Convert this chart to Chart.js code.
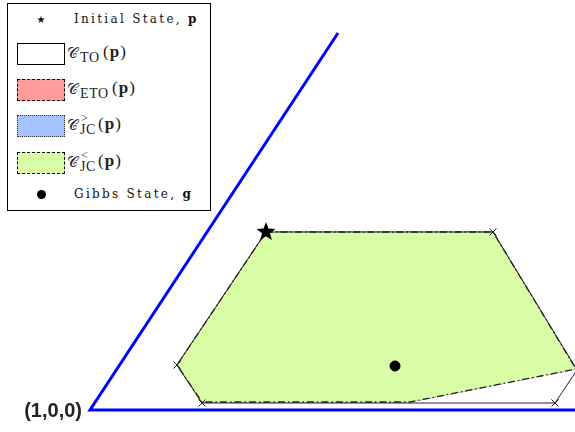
<!DOCTYPE html>
<html>
<head>
<meta charset="utf-8">
<script src="https://cdn.jsdelivr.net/npm/chart.js@4.4.0/dist/chart.umd.min.js"></script>
<style>
body{margin:0;background:#fff;}
#wrap{position:relative;width:575px;height:432px;}
#legend{position:absolute;left:7px;top:3px;width:202px;height:206px;border:1.5px solid #000;background:#fff;
  font-family:"DejaVu Serif","Liberation Serif",serif;color:#111;}
.row{position:absolute;left:0;width:200px;height:26px;display:flex;align-items:center;}
.sym{width:66px;display:flex;justify-content:center;align-items:center;}
.txt{font-size:12px;letter-spacing:2.3px;white-space:nowrap;}
.sw{display:block;width:48px;height:22px;margin-left:9px;margin-right:1px;box-sizing:border-box;}
.mtx{position:relative;width:130px;height:26px;font-family:"Liberation Serif","DejaVu Serif",serif;white-space:nowrap;color:#222;}
.cal{position:absolute;left:1px;top:3px;font-size:15px;font-family:"DejaVu Serif",serif;font-weight:normal;}
.sb{position:absolute;top:9px;font-size:14px;letter-spacing:0.6px;}
.sp{position:absolute;top:-2px;font-size:12px;}
.pp{position:absolute;top:1px;font-size:17px;letter-spacing:1px;}
</style>
</head>
<body>
<div id="wrap">
<canvas id="c" width="575" height="432"></canvas>
<div id="legend">
  <div class="row" style="top:2px"><span class="sym" style="font-size:10px;font-family:'DejaVu Sans'">★</span><span class="txt">Initial State, <b>p</b></span></div>
  <div class="row" style="top:37px"><span class="sw" style="border:1.3px solid #000;background:#fff"></span>
    <span class="mtx"><span class="cal">𝒞</span><span class="sb" style="left:14px">TO</span><span class="pp" style="left:37px">(<b>p</b>)</span></span></div>
  <div class="row" style="top:73px"><span class="sw" style="border:1.5px dashed #000;background:#ff9b9b"></span>
    <span class="mtx"><span class="cal">𝒞</span><span class="sb" style="left:14px">ETO</span><span class="pp" style="left:46px">(<b>p</b>)</span></span></div>
  <div class="row" style="top:109px"><span class="sw" style="border:1.3px dotted #333;background:#a5c3ff"></span>
    <span class="mtx"><span class="cal">𝒞</span><span class="sp" style="left:15px">&gt;</span><span class="sb" style="left:14px">JC</span><span class="pp" style="left:32px">(<b>p</b>)</span></span></div>
  <div class="row" style="top:146px"><span class="sw" style="border:1.5px dashed #000;background:#d9fca6"></span>
    <span class="mtx"><span class="cal">𝒞</span><span class="sp" style="left:15px">&lt;</span><span class="sb" style="left:14px">JC</span><span class="pp" style="left:32px">(<b>p</b>)</span></span></div>
  <div class="row" style="top:177px"><span class="sym"><span style="display:block;width:9px;height:9px;border-radius:50%;background:#000"></span></span><span class="txt">Gibbs State, <b>g</b></span></div>
</div>
</div>
<script>
// simplex edges, corner (1,0,0) at origin
const cornerLabel = '(1,0,0)';
const simplexX = [248, 0, 495];
const simplexY = [377, 0, 0];

// thermal operations region (closed polygon)
const toX = [176, 403, 487, 465, 112, 87, 176];
const toY = [178, 178, 40, 7, 7, 45, 178];
const toMarks = [0, 5, 0, 5, 5, 5, 0];

// ETO / JC regions (same outline in this picture)
const etoX = [176, 403, 486, 320, 112, 87, 176];
const etoY = [178, 178, 41, 8, 8, 45, 178];
const jcX = [176, 403, 486, 320, 112, 87, 176];
const jcY = [178, 178, 41, 8, 8, 45, 178];

const initialState = {x: 176, y: 178};
const gibbsState = {x: 305, y: 44};

function pts(xs, ys){ return xs.map((x,i)=>({x:x, y:ys[i]})); }

// filled star marker
function starImage(r){
  const cv = document.createElement('canvas');
  cv.width = cv.height = r*2+2;
  const g = cv.getContext('2d');
  g.beginPath();
  for(let i=0;i<10;i++){
    const rad = i%2===0 ? r : r*0.42;
    const a = -Math.PI/2 + i*Math.PI/5;
    g.lineTo(r+1+rad*Math.cos(a), r+1+rad*Math.sin(a));
  }
  g.closePath();
  g.fillStyle = '#000';
  g.fill();
  return cv;
}

const cornerPlugin = {
  id: 'corner',
  afterDraw(chart){
    const ctx = chart.ctx;
    const px = chart.scales.x.getPixelForValue(0);
    const py = chart.scales.y.getPixelForValue(0);
    ctx.save();
    ctx.font = 'bold 20px "Liberation Sans", Arial, sans-serif';
    ctx.fillStyle = '#222';
    ctx.textAlign = 'right';
    ctx.textBaseline = 'middle';
    ctx.fillText(cornerLabel, px - 8, py + 1);
    ctx.restore();
  }
};

new Chart(document.getElementById('c'), {
  type: 'scatter',
  data: {
    datasets: [
      {data:[initialState], pointStyle: starImage(10), pointRadius: 10, showLine:false},
      {data:[gibbsState], pointStyle:'circle', pointRadius:5, backgroundColor:'#000', borderColor:'#000', showLine:false},
      {data: pts(toX, toY), showLine:true, fill:false, borderColor:'#222', borderWidth:1,
        pointStyle:'crossRot', pointRadius: toMarks, pointBorderColor:'#222', pointBorderWidth:1},
      {data: pts(jcX, jcY), showLine:true, fill:'shape', backgroundColor:'#d9fca6',
        borderColor:'#222', borderWidth:1.3, borderDash:[7,3,1.5,3], pointRadius:0},
      {data: pts(jcX, jcY), showLine:true, fill:'shape', backgroundColor:'#a5c3ff',
        borderColor:'#999', borderWidth:1, borderDash:[1,2], pointRadius:0},
      {data: pts(etoX, etoY), showLine:true, fill:'shape', backgroundColor:'#ff9b9b',
        borderColor:'#c77', borderWidth:1.2, borderDash:[6,4], pointRadius:0},
      {data: pts(simplexX, simplexY), showLine:true, borderColor:'#0000ff', borderWidth:3, pointRadius:0}
    ]
  },
  options: {
    responsive:false,
    animation:false,
    layout:{padding:0, autoPadding:false},
    plugins:{legend:{display:false}, tooltip:{enabled:false}},
    scales:{
      x:{type:'linear', min:-90, max:485, display:false},
      y:{type:'linear', min:-22, max:410, display:false}
    }
  },
  plugins:[cornerPlugin]
});
</script>
</body>
</html>
